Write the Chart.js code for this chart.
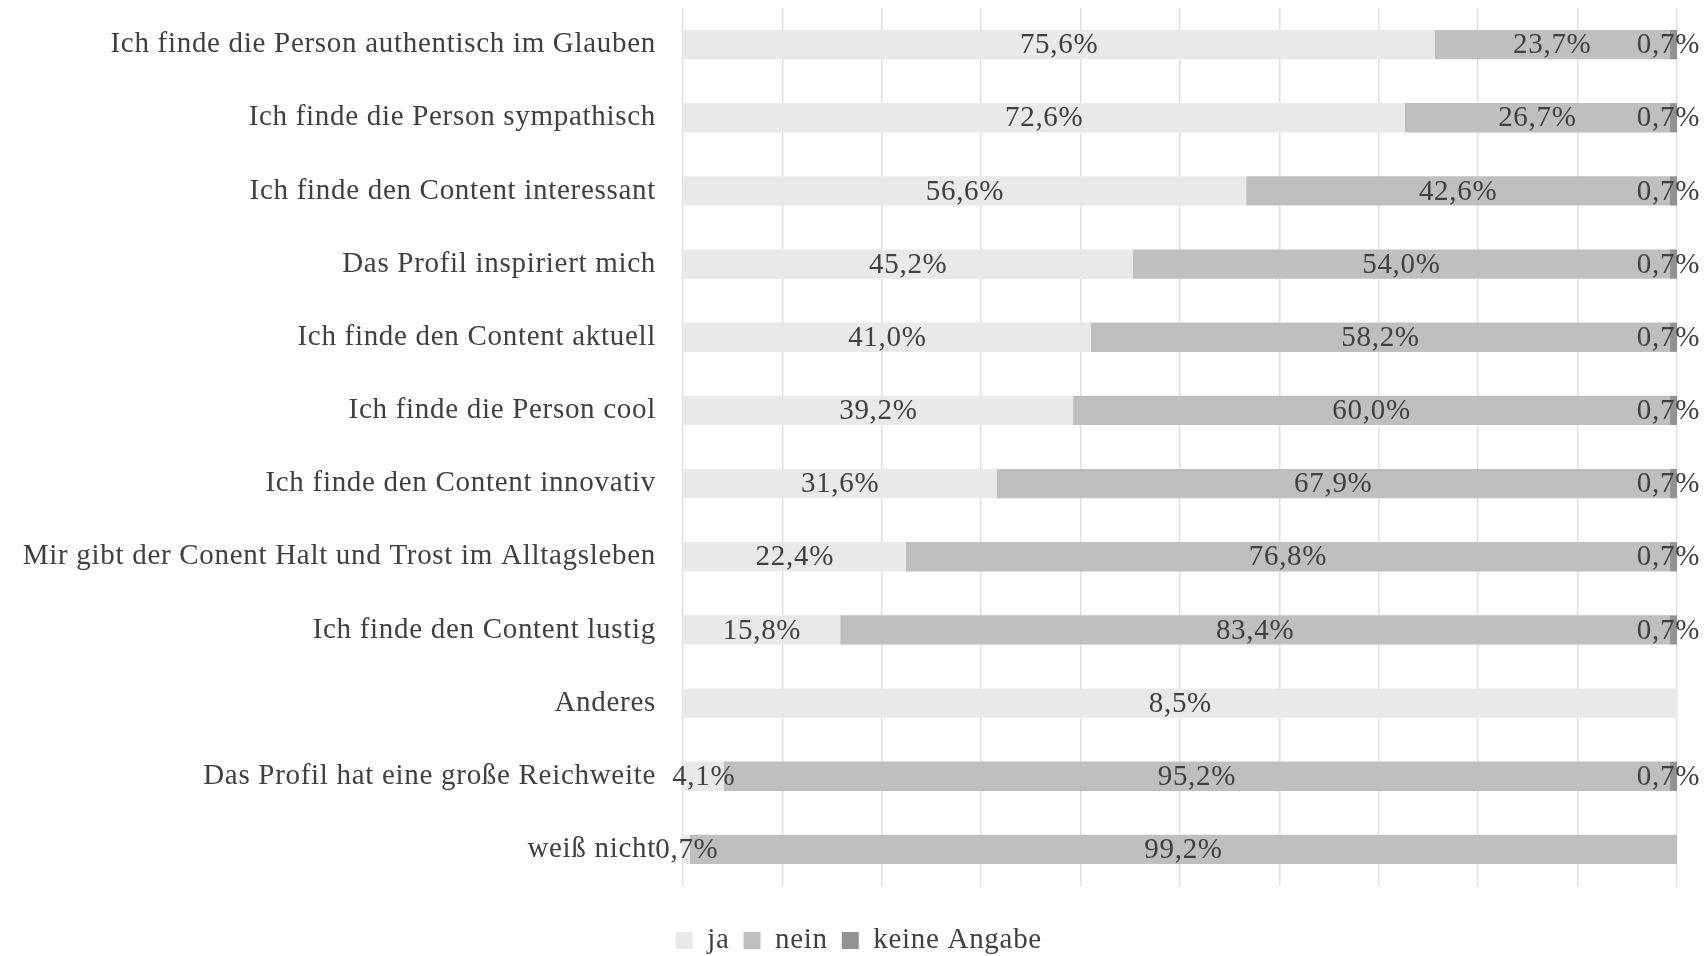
<!DOCTYPE html>
<html>
<head>
<meta charset="utf-8">
<script src="https://cdn.jsdelivr.net/npm/chart.js@4/dist/chart.umd.min.js"></script>
<style>
html,body{margin:0;padding:0;background:#fff;}
#wrap{width:1705px;height:956px;position:relative;}
</style>
</head>
<body>
<div id="wrap"><canvas id="c" width="1705" height="956"></canvas></div>
<script>
const categories = [
  "Ich finde die Person authentisch im Glauben",
  "Ich finde die Person sympathisch",
  "Ich finde den Content interessant",
  "Das Profil inspiriert mich",
  "Ich finde den Content aktuell",
  "Ich finde die Person cool",
  "Ich finde den Content innovativ",
  "Mir gibt der Conent Halt und Trost im Alltagsleben",
  "Ich finde den Content lustig",
  "Anderes",
  "Das Profil hat eine große Reichweite",
  "weiß nicht"
];
const seriesNames = ["ja", "nein", "keine Angabe"];
const jaValues    = [75.6, 72.6, 56.6, 45.2, 41.0, 39.2, 31.6, 22.4, 15.8, 8.5, 4.1, 0.7];
const neinValues  = [23.7, 26.7, 42.6, 54.0, 58.2, 60.0, 67.9, 76.8, 83.4, null, 95.2, 99.2];
const keineValues = [0.7, 0.7, 0.7, 0.7, 0.7, 0.7, 0.7, 0.7, 0.7, null, 0.7, null];
const xTicks = [0, 10, 20, 30, 40, 50, 60, 70, 80, 90, 100];

const raw = [jaValues, neinValues, keineValues];
const rowSums = categories.map((_, i) => raw.reduce((s, arr) => s + (arr[i] || 0), 0));
// 100% stacked: each row shown as shares of its own total
const shares = raw.map(arr => arr.map((v, i) => v == null ? null : v / rowSums[i] * 100));

const colors = ["#e9e9e9", "#bfbfbf", "#929292"];
const FONT = "'Liberation Serif', 'Times New Roman', serif";
const FS = 29;
const TEXT = "#404040";

const fmt = v => v.toFixed(1).replace('.', ',') + '%';

const spacingPlugin = {
  id: 'spacing',
  beforeDraw(chart) { chart.ctx.letterSpacing = '0.7px'; },
  afterLayout(chart) {
    const lg = chart.legend;
    if (lg) { lg.left += 14; lg.right += 14; }
  }
};

const labelPlugin = {
  id: 'segLabels',
  afterDraw(chart) {
    const ctx = chart.ctx;
    ctx.save();
    ctx.letterSpacing = '0.7px';
    ctx.font = FS + "px " + FONT;
    ctx.fillStyle = TEXT;
    ctx.textAlign = 'center';
    ctx.textBaseline = 'middle';
    const maxRight = chart.width - 5;
    chart.data.datasets.forEach((ds, di) => {
      const meta = chart.getDatasetMeta(di);
      meta.data.forEach((bar, i) => {
        const v = raw[di][i];
        if (v == null) return;
        const t = fmt(v);
        const w = ctx.measureText(t).width;
        let x = (bar.x + bar.base) / 2;
        if (x + w / 2 > maxRight) x = maxRight - w / 2;
        ctx.fillText(t, x, bar.y + 1);
      });
    });
    ctx.restore();
  }
};

new Chart(document.getElementById('c'), {
  type: 'bar',
  data: {
    labels: categories,
    datasets: seriesNames.map((n, k) => ({
      label: n,
      data: shares[k],
      backgroundColor: colors[k],
      borderWidth: 0,
      categoryPercentage: 1.0,
      barPercentage: 0.4
    }))
  },
  options: {
    indexAxis: 'y',
    responsive: false,
    animation: false,
    layout: { padding: { top: 8, right: 28, bottom: -9, left: 0 } },
    scales: {
      x: {
        stacked: true,
        min: 0, max: 100,
        afterBuildTicks: s => { s.ticks = xTicks.map(v => ({ value: v })); },
        ticks: { display: false },
        grid: { color: 'rgba(0,0,0,0.12)', lineWidth: 1.5, drawTicks: false },
        border: { display: false },
        afterFit: s => { s.height = 26; s.paddingLeft = 0; s.paddingRight = 0; },
        z: 1
      },
      y: {
        stacked: true,
        grid: { display: false, drawTicks: false },
        border: { display: false },
        ticks: { color: TEXT, font: { family: FONT, size: FS }, padding: 27 },
        afterFit: s => { s.width = 683; s.paddingTop = 0; s.paddingBottom = 0; }
      }
    },
    plugins: {
      legend: {
        position: 'bottom',
        labels: {
          color: TEXT,
          font: { family: FONT, size: FS },
          boxWidth: 17, boxHeight: 17,
          padding: 14
        }
      },
      tooltip: { enabled: false }
    }
  },
  plugins: [spacingPlugin, labelPlugin]
});
</script>
</body>
</html>
